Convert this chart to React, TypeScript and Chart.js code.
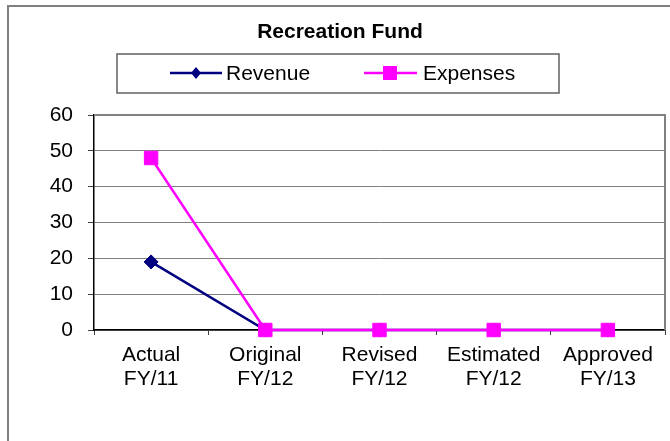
import React, { useEffect, useRef } from "react";
import { Chart, registerables } from "chart.js";

Chart.register(...registerables);

const categories: string[][] = [
  ["Actual", "FY/11"],
  ["Original", "FY/12"],
  ["Revised", "FY/12"],
  ["Estimated", "FY/12"],
  ["Approved", "FY/13"],
];
const revenue = [19, 0, 0, 0, 0];
const expenses = [48, 0, 0, 0, 0];
const yTicks = [0, 10, 20, 30, 40, 50, 60];
const titleText = "Recreation Fund";
const seriesNames = ["Revenue", "Expenses"];

const FONT = "'Liberation Sans', Arial, sans-serif";
const NAVY = "#000080";
const MAGENTA = "#FF00FF";

const framePlugin = {
  id: "frame",
  beforeDraw(chart: any) {
    const ctx = chart.ctx;
    ctx.save();
    ctx.strokeStyle = "#808080";
    ctx.lineWidth = 2;
    ctx.strokeRect(8, 6, 720, 500);
    ctx.restore();
  },
  afterDraw(chart: any) {
    const ctx = chart.ctx;
    const a = chart.chartArea;
    ctx.save();
    // top and right border of plot area
    ctx.strokeStyle = "#808080";
    ctx.lineWidth = 2;
    ctx.beginPath();
    ctx.moveTo(a.left, a.top);
    ctx.lineTo(a.right, a.top);
    ctx.lineTo(a.right, a.bottom);
    ctx.stroke();

    // title
    ctx.fillStyle = "#000";
    ctx.font = `bold 21px ${FONT}`;
    ctx.textAlign = "center";
    ctx.textBaseline = "middle";
    ctx.fillText(titleText, 340, 32);

    // legend box
    ctx.strokeStyle = "#606060";
    ctx.lineWidth = 1.5;
    ctx.strokeRect(117, 54, 442, 39);

    const ly = 73;
    ctx.font = `21px ${FONT}`;
    ctx.textAlign = "left";
    // revenue
    ctx.strokeStyle = NAVY;
    ctx.lineWidth = 2.5;
    ctx.beginPath();
    ctx.moveTo(170, ly);
    ctx.lineTo(222, ly);
    ctx.stroke();
    ctx.fillStyle = NAVY;
    ctx.beginPath();
    ctx.moveTo(196 - 5, ly);
    ctx.lineTo(196, ly - 6);
    ctx.lineTo(196 + 5, ly);
    ctx.lineTo(196, ly + 6);
    ctx.closePath();
    ctx.fill();
    ctx.fillStyle = "#000";
    ctx.fillText(seriesNames[0], 226, ly + 1);
    // expenses
    ctx.strokeStyle = MAGENTA;
    ctx.beginPath();
    ctx.moveTo(364, ly);
    ctx.lineTo(417, ly);
    ctx.stroke();
    ctx.fillStyle = MAGENTA;
    ctx.fillRect(390 - 7, ly - 7, 14, 14);
    ctx.fillStyle = "#000";
    ctx.fillText(seriesNames[1], 423, ly + 1);
    ctx.restore();
  },
};

export default function App() {
  const ref = useRef<HTMLCanvasElement | null>(null);
  useEffect(() => {
    document.body.style.margin = "0";
    if (!ref.current) return;
    const chart = new Chart(ref.current, {
      type: "line",
      data: {
        labels: categories,
        datasets: [
          {
            label: seriesNames[1],
            data: expenses,
            borderColor: MAGENTA,
            backgroundColor: MAGENTA,
            borderWidth: 2.5,
            pointStyle: "rect",
            pointRadius: 9.5,
            pointBorderWidth: 1,
            pointBackgroundColor: MAGENTA,
            pointBorderColor: MAGENTA,
            tension: 0,
            clip: false as any,
            order: 0,
          },
          {
            label: seriesNames[0],
            data: revenue,
            borderColor: NAVY,
            backgroundColor: NAVY,
            borderWidth: 2.5,
            pointStyle: "rectRot",
            pointRadius: 7,
            pointBorderWidth: 1,
            pointBackgroundColor: NAVY,
            pointBorderColor: NAVY,
            tension: 0,
            clip: false as any,
            order: 1,
          },
        ],
      },
      options: {
        responsive: false,
        animation: false,
        layout: { autoPadding: false, padding: { left: 0, right: 5, top: 115, bottom: 0 } },
        plugins: {
          legend: { display: false },
          title: { display: false },
          tooltip: { enabled: false },
        },
        scales: {
          x: {
            offset: true,
            afterFit(scale: any) {
              scale.height = 111;
              scale.paddingLeft = 0;
              scale.paddingRight = 0;
            },
            grid: {
              offset: true,
              drawOnChartArea: false,
              drawTicks: true,
              tickLength: 5,
              color: "#404040",
              lineWidth: 1,
            },
            border: { color: "#000", width: 1.5 },
            ticks: {
              color: "#000",
              font: { family: FONT, size: 21, lineHeight: 1.15 },
              padding: 8,
              maxRotation: 0,
              autoSkip: false,
            },
          },
          y: {
            min: 0,
            max: 60,
            afterFit(scale: any) {
              scale.width = 94;
              scale.paddingTop = 0;
              scale.paddingBottom = 0;
            },
            afterBuildTicks(scale: any) {
              scale.ticks = yTicks.map((v) => ({ value: v }));
            },
            grid: {
              color: "#808080",
              lineWidth: 1,
              drawTicks: true,
              tickLength: 6,
              tickColor: "#404040",
            },
            border: { color: "#000", width: 1.5 },
            ticks: {
              color: "#000",
              font: { family: FONT, size: 21 },
              padding: 15,
              stepSize: 10,
            },
          },
        },
      },
      plugins: [framePlugin],
    });
    return () => chart.destroy();
  }, []);
  return (
    <div style={{ position: "absolute", left: 0, top: 0, width: 670, height: 441 }}>
      <canvas ref={ref} width={670} height={441} />
    </div>
  );
}
